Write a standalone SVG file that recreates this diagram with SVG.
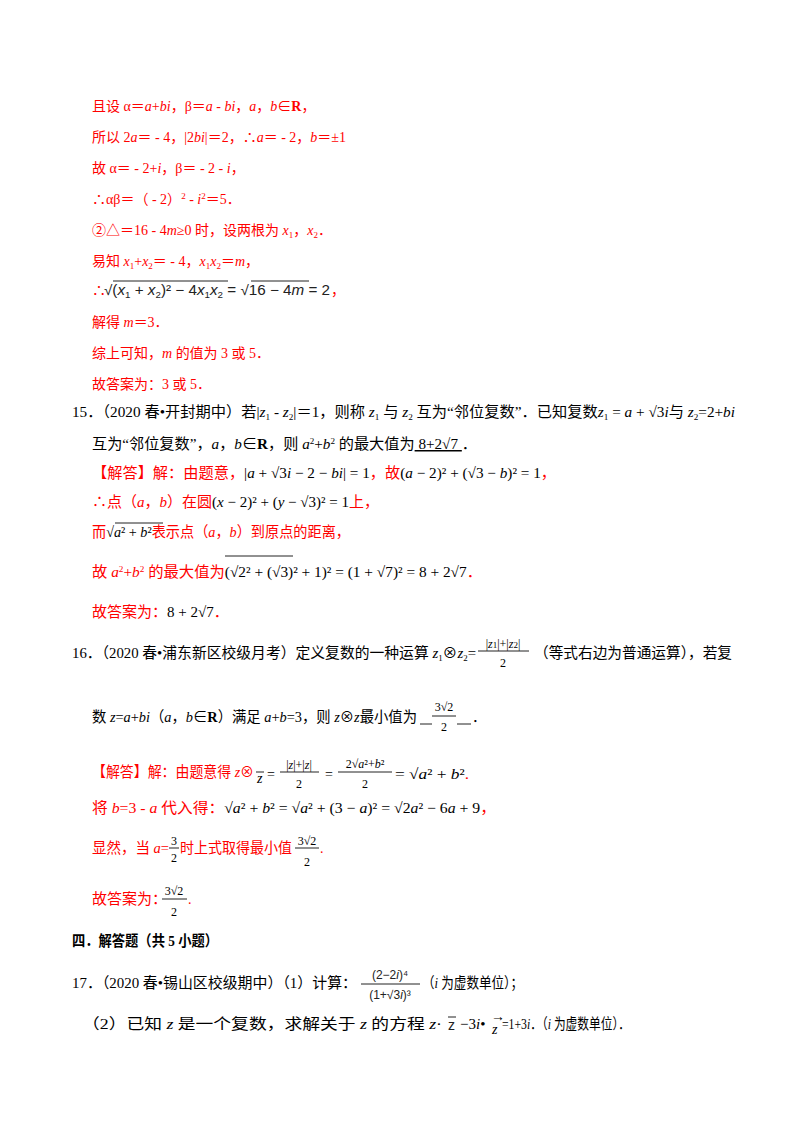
<svg xmlns="http://www.w3.org/2000/svg" width="800" height="1132" viewBox="0 0 800 1132">
<style>
text{font-family:"Liberation Serif","Noto Sans CJK SC",serif;font-size:14px;fill:#000}
.q{font-size:15px}
.r{fill:#ff0000}
.k{fill:#000}
.m{font-family:"Liberation Sans","Noto Sans CJK SC",sans-serif;fill:#222}
.i{font-style:italic}
.b{font-weight:bold}
.s{font-size:9px}
.f{font-size:12px}
line{stroke:#222;stroke-width:1}
</style>
<rect width="800" height="1132" fill="#fff"/>
<g id="sol14">
<text class="r" x="92" y="111">且设 α＝<tspan class="i">a</tspan>+<tspan class="i">bi</tspan>，β＝<tspan class="i">a</tspan> - <tspan class="i">bi</tspan>，<tspan class="i">a</tspan>，<tspan class="i">b</tspan>∈<tspan class="b">R</tspan>，</text>
<text class="r" x="92" y="142">所以 2<tspan class="i">a</tspan>＝ - 4，|2<tspan class="i">bi</tspan>|＝2，∴<tspan class="i">a</tspan>＝ - 2，<tspan class="i">b</tspan>＝±1</text>
<text class="r" x="92" y="173">故 α＝ - 2+<tspan class="i">i</tspan>，β＝ - 2 - <tspan class="i">i</tspan>，</text>
<text class="r" x="92" y="204">∴αβ＝（ - 2）<tspan class="s" dy="-5">2</tspan><tspan dy="5"> - </tspan><tspan class="i">i</tspan><tspan class="s" dy="-5">2</tspan><tspan dy="5">＝5．</tspan></text>
<text class="r" x="92" y="235">②△＝16 - 4<tspan class="i">m</tspan>≥0 时，设两根为 <tspan class="i">x</tspan><tspan class="s" dy="3">1</tspan><tspan dy="-3">，</tspan><tspan class="i">x</tspan><tspan class="s" dy="3">2</tspan><tspan dy="-3">．</tspan></text>
<text class="r" x="92" y="266">易知 <tspan class="i">x</tspan><tspan class="s" dy="3">1</tspan><tspan dy="-3">+</tspan><tspan class="i">x</tspan><tspan class="s" dy="3">2</tspan><tspan dy="-3">＝ - 4，</tspan><tspan class="i">x</tspan><tspan class="s" dy="3">1</tspan><tspan class="i" dy="-3">x</tspan><tspan class="s" dy="3">2</tspan><tspan dy="-3">＝</tspan><tspan class="i">m</tspan>，</text>
<text class="r" x="92" y="295">∴</text>
<text class="m" x="104" y="295" textLength="226" lengthAdjust="spacingAndGlyphs">√(<tspan class="i">x</tspan><tspan class="s" dy="3">1</tspan><tspan dy="-3"> + </tspan><tspan class="i">x</tspan><tspan class="s" dy="3">2</tspan><tspan dy="-3">)² − 4</tspan><tspan class="i">x</tspan><tspan class="s" dy="3">1</tspan><tspan class="i" dy="-3">x</tspan><tspan class="s" dy="3">2</tspan><tspan dy="-3"> = √16 − 4</tspan><tspan class="i">m</tspan> = 2</text>
<line x1="113" y1="281" x2="228" y2="281"/><line x1="251" y1="281" x2="309" y2="281"/>
<text class="r" x="331" y="295">，</text>
<text class="r" x="92" y="327">解得 <tspan class="i">m</tspan>＝3．</text>
<text class="r" x="92" y="358">综上可知，<tspan class="i">m</tspan> 的值为 3 或 5．</text>
<text class="r" x="92" y="389">故答案为：3 或 5．</text>
</g>
<g id="q15">
<text class="q" x="72" y="417" textLength="663" lengthAdjust="spacingAndGlyphs">15．（2020 春•开封期中）若|<tspan class="i">z</tspan><tspan class="s" dy="3">1</tspan><tspan dy="-3"> - </tspan><tspan class="i">z</tspan><tspan class="s" dy="3">2</tspan><tspan dy="-3">|＝1，则称 </tspan><tspan class="i">z</tspan><tspan class="s" dy="3">1</tspan><tspan dy="-3"> 与 </tspan><tspan class="i">z</tspan><tspan class="s" dy="3">2</tspan><tspan dy="-3"> 互为“邻位复数”．已知复数</tspan><tspan class="i">z</tspan><tspan class="s" dy="3">1</tspan><tspan dy="-3"> = </tspan><tspan class="i">a</tspan> + √3<tspan class="i">i</tspan>与 <tspan class="i">z</tspan><tspan class="s" dy="3">2</tspan><tspan dy="-3">=2+</tspan><tspan class="i">bi</tspan></text>
<text class="q" x="92" y="449" textLength="385" lengthAdjust="spacingAndGlyphs">互为“邻位复数”，<tspan class="i">a</tspan>，<tspan class="i">b</tspan>∈<tspan class="b">R</tspan>，则 <tspan class="i">a</tspan><tspan class="s" dy="-5">2</tspan><tspan dy="5">+</tspan><tspan class="i">b</tspan><tspan class="s" dy="-5">2</tspan><tspan dy="5"> 的最大值为</tspan><tspan text-decoration="underline">  8+2√7  </tspan>．</text>
<text class="r q" x="92" y="478" textLength="464" lengthAdjust="spacingAndGlyphs">【解答】解：由题意，<tspan class="k">|<tspan class="i">a</tspan> + √3<tspan class="i">i</tspan> − 2 − <tspan class="i">bi</tspan>| = 1</tspan>，故<tspan class="k">(<tspan class="i">a</tspan> − 2)² + (√3 − <tspan class="i">b</tspan>)² = 1</tspan>，</text>
<text class="r q" x="92" y="507" textLength="287" lengthAdjust="spacingAndGlyphs">∴点（<tspan class="i">a</tspan>，<tspan class="i">b</tspan>）在圆<tspan class="k">(<tspan class="i">x</tspan> − 2)² + (<tspan class="i">y</tspan> − √3)² = 1</tspan>上，</text>
<text class="r q" x="92" y="537" textLength="258" lengthAdjust="spacingAndGlyphs">而<tspan class="k">√<tspan class="i">a</tspan>² + <tspan class="i">b</tspan>²</tspan>表示点（<tspan class="i">a</tspan>，<tspan class="i">b</tspan>）到原点的距离，</text>
<line x1="115" y1="523" x2="163" y2="523"/>
<text class="r q" x="92" y="577" textLength="390" lengthAdjust="spacingAndGlyphs">故 <tspan class="i">a</tspan><tspan class="s" dy="-5">2</tspan><tspan dy="5">+</tspan><tspan class="i">b</tspan><tspan class="s" dy="-5">2</tspan><tspan dy="5"> 的最大值为</tspan><tspan class="k">(√2² + (√3)² + 1)² = (1 + √7)² = 8 + 2√7</tspan>．</text>
<line x1="225" y1="556" x2="293" y2="556"/>
<text class="r q" x="92" y="617">故答案为：<tspan class="k">8 + 2√7</tspan>．</text>
</g>
<g id="q16">
<text class="q" x="72" y="658" textLength="404" lengthAdjust="spacingAndGlyphs">16．（2020 春•浦东新区校级月考）定义复数的一种运算 <tspan class="i">z</tspan><tspan class="s" dy="3">1</tspan><tspan dy="-3">⊗</tspan><tspan class="i">z</tspan><tspan class="s" dy="3">2</tspan><tspan dy="-3">=</tspan></text>
<text x="503" y="648" text-anchor="middle" class="f">|<tspan class="i">z</tspan><tspan class="s">1</tspan>|+|<tspan class="i">z</tspan><tspan class="s">2</tspan>|</text>
<line x1="478" y1="651" x2="529" y2="651"/>
<text x="503" y="667" text-anchor="middle" class="f">2</text>
<text class="q" x="534" y="658" textLength="198" lengthAdjust="spacingAndGlyphs">（等式右边为普通运算），若复</text>
<text class="q" x="92" y="722" textLength="325" lengthAdjust="spacingAndGlyphs">数 <tspan class="i">z</tspan>=<tspan class="i">a</tspan>+<tspan class="i">bi</tspan>（<tspan class="i">a</tspan>，<tspan class="i">b</tspan>∈<tspan class="b">R</tspan>）满足 <tspan class="i">a</tspan>+<tspan class="i">b</tspan>=3，则 <tspan class="i">z</tspan>⊗<tspan class="i">z</tspan>最小值为</text>
<line x1="366" y1="710" x2="373" y2="710"/>
<line x1="420" y1="724" x2="432" y2="724"/><line x1="457" y1="724" x2="471" y2="724"/>
<text x="444" y="711" text-anchor="middle" class="f">3√2</text>
<line x1="432" y1="716" x2="456" y2="716"/>
<text x="444" y="731" text-anchor="middle" class="f">2</text>
<text x="472" y="722">．</text>
<text class="r q" x="92" y="777" textLength="162" lengthAdjust="spacingAndGlyphs">【解答】解：由题意得 <tspan class="i">z</tspan>⊗</text>
<text x="257" y="783" class="i">z</text><line x1="256" y1="772" x2="264" y2="772"/>
<text x="267" y="779">=</text>
<text x="299" y="769" text-anchor="middle" class="f">|<tspan class="i">z</tspan>|+|<tspan class="i">z</tspan>|</text>
<line x1="280" y1="772" x2="319" y2="772"/>
<text x="299" y="788" text-anchor="middle" class="f">2</text>
<text x="325" y="779">=</text>
<text x="365" y="768" text-anchor="middle" class="f">2√<tspan class="i">a</tspan>²+<tspan class="i">b</tspan>²</text>
<line x1="338" y1="772" x2="392" y2="772"/>
<text x="365" y="788" text-anchor="middle" class="f">2</text>
<text class="q" x="395" y="779" textLength="74" lengthAdjust="spacingAndGlyphs">= √<tspan class="i">a</tspan>² + <tspan class="i">b</tspan>²<tspan class="r">.</tspan></text>
<text class="r q" x="92" y="813" textLength="404" lengthAdjust="spacingAndGlyphs">将 <tspan class="i">b</tspan>=3 - <tspan class="i">a</tspan> 代入得：<tspan class="k">√<tspan class="i">a</tspan>² + <tspan class="i">b</tspan>² = √<tspan class="i">a</tspan>² + (3 − <tspan class="i">a</tspan>)² = √2<tspan class="i">a</tspan>² − 6<tspan class="i">a</tspan> + 9</tspan>，</text>
<text class="r q" x="92" y="853" textLength="77" lengthAdjust="spacingAndGlyphs">显然，当 <tspan class="i">a</tspan>=</text>
<text class="k f" x="174" y="845" text-anchor="middle">3</text>
<line x1="169" y1="848" x2="179" y2="848"/>
<text class="k f" x="174" y="862" text-anchor="middle">2</text>
<text class="r q" x="180" y="853" textLength="112" lengthAdjust="spacingAndGlyphs">时上式取得最小值</text>
<text class="k f" x="307" y="845" text-anchor="middle">3√2</text>
<line x1="295" y1="848" x2="319" y2="848"/>
<text class="k f" x="307" y="866" text-anchor="middle">2</text>
<text class="r" x="320" y="853">.</text>
<text class="r q" x="92" y="904">故答案为：</text>
<text class="k f" x="174" y="895" text-anchor="middle">3√2</text>
<line x1="162" y1="899" x2="187" y2="899"/>
<text class="k f" x="174" y="916" text-anchor="middle">2</text>
<text class="r" x="188" y="904">.</text>
</g>
<g id="sec4">
<text x="72" y="946" class="b q" textLength="146" lengthAdjust="spacingAndGlyphs">四．解答题（共 5 小题）</text>
</g>
<g id="q17">
<text class="q" x="72" y="988" textLength="285" lengthAdjust="spacingAndGlyphs">17．（2020 春•锡山区校级期中）（1）计算：</text>
<text class="m f" x="390" y="979" text-anchor="middle">(2−2<tspan class="i">i</tspan>)⁴</text>
<line x1="361" y1="984" x2="420" y2="984"/>
<text class="m f" x="390" y="999" text-anchor="middle">(1+√3<tspan class="i">i</tspan>)³</text>
<text class="q" x="422" y="988" textLength="101" lengthAdjust="spacingAndGlyphs">（<tspan class="i">i</tspan> 为虚数单位）；</text>
<text class="q" x="82" y="1029" textLength="360" lengthAdjust="spacingAndGlyphs">（2）已知 <tspan class="i">z</tspan> 是一个复数，求解关于 <tspan class="i">z</tspan> 的方程 <tspan class="i">z</tspan>·</text>
<text class="m" x="448" y="1030">z</text><line x1="448" y1="1017" x2="456" y2="1017"/>
<text class="q" x="460" y="1029">−3<tspan class="i">i</tspan>•</text>
<text class="i" x="492" y="1034" font-size="11">z</text>
<text x="491" y="1021" font-size="10">→</text>
<text class="q" x="502" y="1029" textLength="128" lengthAdjust="spacingAndGlyphs">=1+3<tspan class="i">i</tspan>．（<tspan class="i">i</tspan> 为虚数单位）．</text>
</g>
</svg>
